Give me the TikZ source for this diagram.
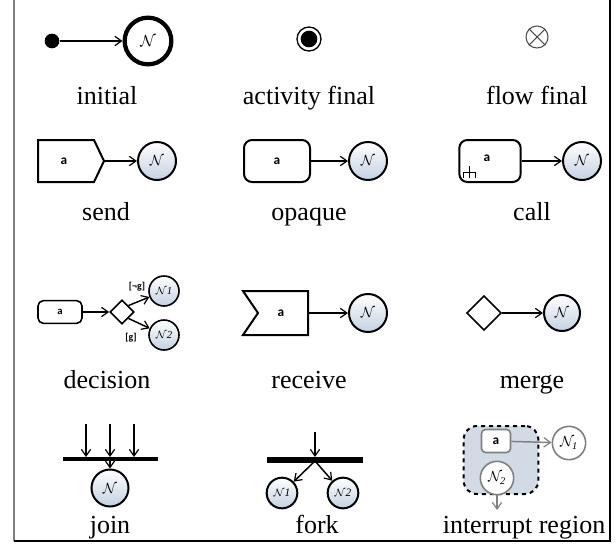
\documentclass[tikz,border=0pt]{standalone}
\usepackage{fontspec}
\setmainfont{Liberation Serif}
\newfontfamily\afont{Carlito}
\usetikzlibrary{arrows.meta,shapes.geometric,calc}
\definecolor{nfill}{RGB}{196,208,226}
\definecolor{regfill}{RGB}{210,218,230}
\definecolor{greyline}{RGB}{128,128,128}
\begin{document}
\begin{tikzpicture}[x=0.75pt,y=-0.75pt,
  lbl/.style={anchor=base,font=\fontsize{19.5}{22}\selectfont,inner sep=0},
  albl/.style={font=\afont\bfseries\fontsize{10}{12}\selectfont,inner sep=0},
  glbl/.style={font=\afont\bfseries\fontsize{7.5}{9}\selectfont,inner sep=0},
  ncirc/.style={circle,draw,line width=1.5pt,minimum size=28.5pt,inner sep=0,top color=white,bottom color=nfill,font=\fontsize{11}{13}\selectfont},
  arr/.style={-{Straight Barb[length=5pt,width=7pt,line width=0.9pt]},line width=1.1pt},
  shp/.style={draw,line width=1.5pt,fill=white},
  rbox/.style={draw,line width=1.5pt,rounded corners=6pt,fill=white,minimum width=49.5pt,minimum height=31.5pt,inner sep=0},
  dmd/.style={diamond,draw,line width=1.2pt,fill=white,inner sep=0},
]
\useasboundingbox (0,0) rectangle (616,543);
% frame
\draw[greyline,line width=1.5pt] (14,0) -- (14,541);
\draw[line width=1pt] (14,541) -- (610,541) -- (610,0);

% ---------- row 1 ----------
\node[circle,fill,inner sep=0,minimum size=11pt] (idot) at (52,41) {};
\node[circle,draw,line width=3.2pt,fill=white,minimum size=35pt,inner sep=0,font=\fontsize{12}{14}\selectfont] (iN) at (148,41) {$\mathcal{N}$};
\draw[arr] (idot) -- (iN);
\node[lbl] (linit) at (107,104) {initial};

\node[circle,draw,line width=1pt,minimum size=18pt,inner sep=0] (af) at (309,39) {};
\node[circle,fill,minimum size=12.5pt,inner sep=0] (afin) at (af.center) {};
\node[lbl] (lact) at (309,104) {activity final};

\node[circle,draw=black!70,line width=0.8pt,minimum size=16.5pt,inner sep=0] (ff) at (537,37) {};
\draw[black!70,line width=0.8pt] (ff.45) -- (ff.225) (ff.135) -- (ff.315);
\node[lbl] (lflow) at (537,104) {flow final};

% ---------- row 2 ----------
\draw[shp] (38,140) -- (94,140) -- (104,161) -- (94,182) -- (38,182) -- cycle;
\coordinate (stip) at (104,161);
\node[albl] (sa) at (64,161) {a};
\node[ncirc] (sN) at (157,161) {$\mathcal{N}$};
\draw[arr] (stip) -- (sN);
\node[lbl] (lsend) at (106,220) {send};

\node[rbox] (oa) at (277,161) {\afont\bfseries a};
\node[ncirc] (oN) at (368,161) {$\mathcal{N}$};
\draw[arr] (oa) -- (oN);
\node[lbl] (lopq) at (309,220) {opaque};

\node[rbox,minimum width=46pt] (ca) at (490,161) {};
\node[albl] (caa) at (487,158) {a};
\draw[line width=0.5pt] (469,166) -- (469,178) (463,172) -- (475,172) (463,172) -- (463,178) (475,172) -- (475,178);
\node[ncirc] (cN) at (582,161) {$\mathcal{N}$};
\draw[arr] (ca) -- (cN);
\node[lbl] (lcall) at (532,220) {call};

% ---------- row 3 ----------
\node[draw,line width=1.2pt,rounded corners=4pt,fill=white,minimum width=33pt,minimum height=17pt,inner sep=0,font=\afont\bfseries\fontsize{8}{10}\selectfont] (da) at (60,312) {a};
\node[dmd,minimum size=18pt] (dd) at (122,312) {};
\node[ncirc,minimum size=22.5pt,line width=1.2pt,font=\fontsize{8}{10}\selectfont] (dN1) at (164,291) {$\mathcal{N}\mathit{1}$};
\node[ncirc,minimum size=22.5pt,line width=1.2pt,font=\fontsize{8}{10}\selectfont] (dN2) at (164,335) {$\mathcal{N}\mathit{2}$};
\draw[arr] (da) -- (dd);
\draw[arr] (dd.north east) -- (dN1);
\draw[arr] (dd.south east) -- (dN2);
\node[glbl] (g1) at (137,287) {[¬g]};
\node[glbl] (g2) at (131,338) {[g]};
\node[lbl] (ldec) at (107,388) {decision};

\draw[shp] (243,291) -- (308,291) -- (308,335) -- (243,335) -- (258,313) -- cycle;
\coordinate (rtip) at (308,313);
\node[albl] (ra) at (281,313) {a};
\node[ncirc] (rN) at (368,313) {$\mathcal{N}$};
\draw[arr] (rtip) -- (rN);
\node[lbl] (lrec) at (309,388) {receive};

\node[dmd,minimum size=26pt] (md) at (484,313) {};
\node[ncirc,minimum size=27pt] (mN) at (562,313) {$\mathcal{N}$};
\draw[arr] (md) -- (mN);
\node[lbl] (lmerge) at (532,388) {merge};

% ---------- row 4 ----------
\coordinate (jb1) at (63,459);
\coordinate (jb2) at (158,459);
\draw[line width=3pt] (jb1) -- (jb2);
\foreach \x/\n in {86/a,110/b,134/c}{
  \coordinate (js\n) at (\x,424);
  \coordinate (je\n) at (\x,457);
  \draw[arr] (js\n) -- (je\n);
}
\coordinate (jm) at (110,460);
\node[ncirc,minimum size=27.75pt] (jN) at (110,488) {$\mathcal{N}$};
\draw[arr] (jm) -- (jN);
\node[lbl] (ljoin) at (110,533) {join};

\coordinate (fb1) at (267,460);
\coordinate (fb2) at (363,460);
\draw[line width=4.5pt] (fb1) -- (fb2);
\coordinate (fs) at (315,432);
\coordinate (fe) at (315,457);
\coordinate (fm) at (315,461);
\draw[arr] (fs) -- (fe);
\node[ncirc,minimum size=23pt,font=\fontsize{8.5}{10}\selectfont] (fN1) at (282,493) {$\mathcal{N}\mathit{1}$};
\node[ncirc,minimum size=23pt,font=\fontsize{8.5}{10}\selectfont] (fN2) at (343,493) {$\mathcal{N}\mathit{2}$};
\draw[arr] (fm) -- (fN1);
\draw[arr] (fm) -- (fN2);
\node[lbl] (lfork) at (317,533) {fork};

\node[draw,dashed,line width=1.5pt,rounded corners=10pt,fill=regfill,minimum width=56pt,minimum height=51pt,inner sep=0] (reg) at (501,460) {};
\node[draw=greyline,line width=1.2pt,rounded corners=3pt,fill=white,minimum width=21.75pt,minimum height=17.25pt,inner sep=0,font=\afont\bfseries\fontsize{10}{12}\selectfont] (ia) at (496,441) {a};
\node[circle,draw=greyline,line width=1.2pt,fill=white,minimum size=25pt,inner sep=0,font=\fontsize{11}{13}\selectfont] (iN1) at (569,443) {$\mathcal{N}_{\mathit{1}}$};
\node[circle,draw=greyline,line width=1.2pt,fill=white,minimum size=25pt,inner sep=0,font=\fontsize{11}{13}\selectfont] (iN2) at (497,478) {$\mathcal{N}_{\mathit{2}}$};
\coordinate (iend) at (497,510);
\draw[arr,greyline] (ia) -- (iN1);
\draw[arr,greyline] (iN2) -- (iend);
\node[lbl] (lint) at (524,533) {interrupt region};
\end{tikzpicture}
\end{document}
